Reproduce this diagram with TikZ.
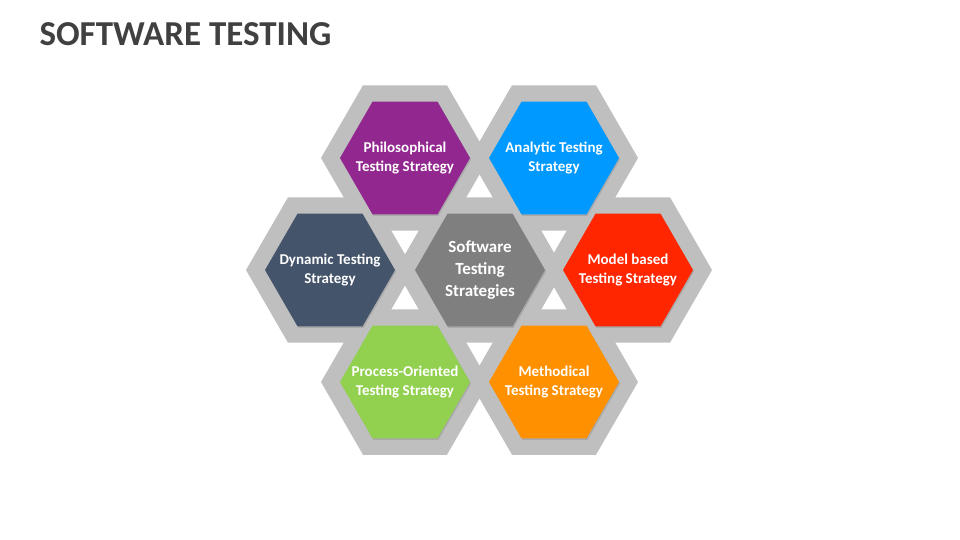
\documentclass[tikz,border=0pt]{standalone}
\usepackage{fontspec}
\setmainfont{Carlito}
\usetikzlibrary{shapes.geometric,shadows}
\definecolor{ringgray}{HTML}{BFBFBF}
\definecolor{philo}{HTML}{92278F}
\definecolor{analytic}{HTML}{0099FF}
\definecolor{dynamic}{HTML}{44546A}
\definecolor{model}{HTML}{FF2600}
\definecolor{process}{HTML}{92D050}
\definecolor{methodical}{HTML}{FF9100}
\definecolor{core}{HTML}{7F7F7F}
\definecolor{titlegray}{HTML}{404040}
\begin{document}
\begin{tikzpicture}[x=1pt,y=-1pt,
      ring/.style={
            regular polygon, regular polygon sides=6,
            minimum size=168pt, inner sep=0pt, fill=ringgray
        },
      hexa/.style={
            regular polygon, regular polygon sides=6,
            minimum size=130pt, inner sep=0pt,
            drop shadow={shadow xshift=1pt,shadow yshift=-1.5pt,opacity=0.35}
        },
      caption/.style={
            text=white, align=center,
            font=\bfseries\fontsize{15}{19}\selectfont
        }
      ]
    \useasboundingbox (0,0) rectangle (960,540);
    \node[anchor=west,text=titlegray,font=\bfseries\fontsize{35}{40}\selectfont] (title) at (36,34) {SOFTWARE TESTING};

    \foreach \px/\py in {405/158,554/158,330/270,628/270,405/382,554/382,480/270}
      \node[ring] at (\px,\py) {};

    \node[hexa,fill=philo] (philo) at (405,158) {};
    \node[hexa,fill=analytic] (analytic) at (554,158) {};
    \node[hexa,fill=dynamic] (dynamic) at (330,270) {};
    \node[hexa,fill=model] (model) at (628,270) {};
    \node[hexa,fill=process] (process) at (405,382) {};
    \node[hexa,fill=methodical] (methodical) at (554,382) {};
    \node[hexa,fill=core] (core) at (480,270) {};

    \node[caption] at (philo) {Philosophical\\Testing Strategy};
    \node[caption] at (analytic) {Analytic Testing\\Strategy};
    \node[caption] at (dynamic) {Dynamic Testing\\Strategy};
    \node[caption] at (model) {Model based\\Testing Strategy};
    \node[caption] at (process) {Process-Oriented\\Testing Strategy};
    \node[caption] at (methodical) {Methodical\\Testing Strategy};
    \node[caption,font=\bfseries\fontsize{17}{22}\selectfont] at (core) {Software\\Testing\\Strategies};
\end{tikzpicture}
\end{document}
